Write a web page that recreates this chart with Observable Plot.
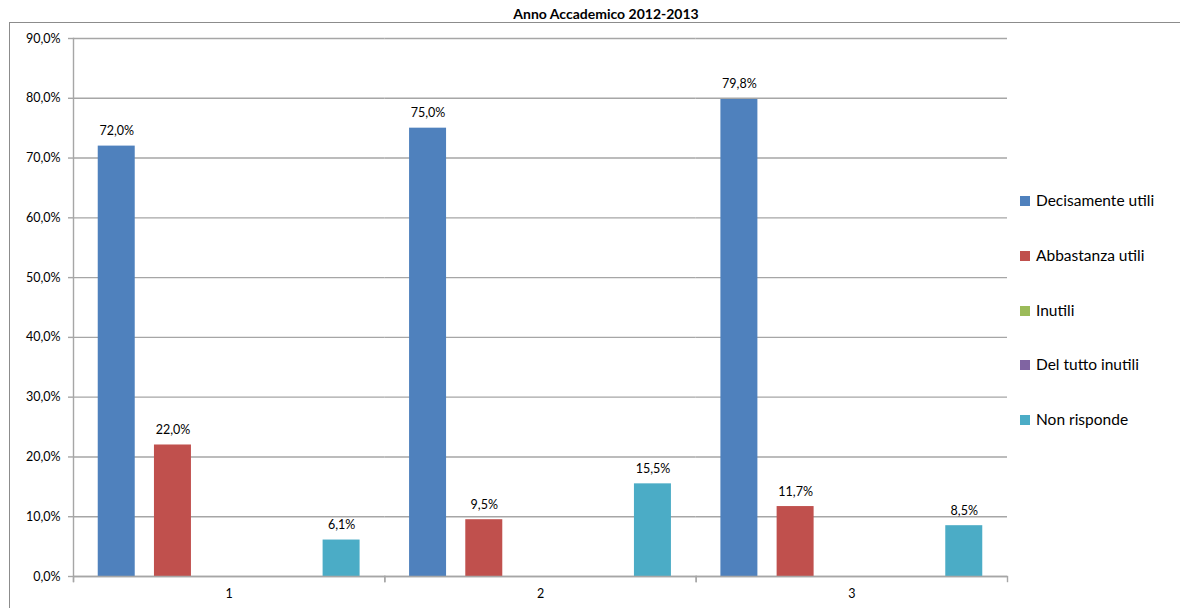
<!DOCTYPE html>
<html>
<head>
<meta charset="utf-8">
<script src="https://cdn.jsdelivr.net/npm/d3@7"></script>
<script src="https://cdn.jsdelivr.net/npm/@observablehq/plot@0.6"></script>
<style>
  html, body { margin: 0; padding: 0; background: #fff; }
  #wrap { position: relative; width: 1180px; height: 608px; overflow: hidden; font-family: Lato, "Open Sans", sans-serif; }
  #title { position: absolute; top: 5px; left: 0; width: 1212px; text-align: center; font-weight: bold; font-size: 14px; color: #000; }
  #legend { position: absolute; left: 1020px; top: 191px; font-size: 15.5px; color: #000; }
  .li { height: 54.8px; display: flex; align-items: flex-start; }
  .sw { width: 10px; height: 10px; margin-right: 6px; margin-top: 5px; }
  #border { position: absolute; left: 9px; top: 22px; width: 1200px; height: 700px; border-left: 1.5px solid #8c8c8c; border-top: 1.5px solid #8c8c8c; box-sizing: border-box; }
  #chart { position: absolute; left: 0; top: 0; }
</style>
</head>
<body>
<div id="wrap">
  <div id="border"></div>
  <div id="chart"></div>
  <div id="title">Anno Accademico 2012-2013</div>
  <div id="legend"></div>
</div>
<script>
const groups = ["1", "2", "3"];
const series = ["Decisamente utili", "Abbastanza utili", "Inutili", "Del tutto inutili", "Non risponde"];
const colors = ["#4f81bd", "#c0504d", "#9bbb59", "#8064a2", "#4bacc6"];
const decisamente = [72.0, 75.0, 79.8];
const abbastanza = [22.0, 9.5, 11.7];
const inutili = [0, 0, 0];
const delTutto = [0, 0, 0];
const nonRisponde = [6.1, 15.5, 8.5];
const yTicks = [0, 10, 20, 30, 40, 50, 60, 70, 80, 90];

const valuesBySeries = [decisamente, abbastanza, inutili, delTutto, nonRisponde];
const data = [];
groups.forEach((g, gi) => {
  series.forEach((s, si) => {
    data.push({group: g, series: s, value: valuesBySeries[si][gi]});
  });
});
const fmt = v => d3.format(".1f")(v).replace(".", ",") + "%";

const H = 608, mTop = 38, mBottom = 32;
const innerH = H - mTop - mBottom;
const gridColor = "#a6a6a6";

const chart = Plot.plot({
  width: 1180,
  height: H,
  marginLeft: 73,
  marginRight: 173,
  marginTop: mTop,
  marginBottom: mBottom,
  style: {fontFamily: "Lato, 'Open Sans', sans-serif", fontSize: "12.5px", color: "#000", background: "transparent"},
  fx: {domain: groups, padding: 0, round: false, label: null},
  x: {domain: series, paddingInner: 0.342, paddingOuter: 0.44, round: false, axis: null},
  y: {domain: [0, 90], label: null},
  color: {domain: series, range: colors},
  marks: [
    Plot.ruleY(yTicks, {stroke: gridColor, strokeWidth: 1.4, strokeOpacity: 1}),
    Plot.frame({anchor: "left", facet: "super", stroke: gridColor, strokeWidth: 1.4, strokeOpacity: 1, insetBottom: -5}),
    Plot.frame({anchor: "left", stroke: gridColor, strokeWidth: 1.4, strokeOpacity: 1, insetTop: innerH, insetBottom: -5}),
    Plot.frame({anchor: "right", stroke: gridColor, strokeWidth: 1.4, strokeOpacity: 1, insetTop: innerH, insetBottom: -5}),
    Plot.axisY(yTicks, {tickSize: 5, tickPadding: 8, tickFormat: fmt, stroke: gridColor, strokeWidth: 1.4, fill: "#000", fontSize: 12.5, label: null}),
    Plot.axisFx({anchor: "bottom", tickSize: 0, tickPadding: 13, fontSize: 12.5, fill: "#000", label: null}),
    Plot.barY(data, {fx: "group", x: "series", y: "value", fill: "series"}),
    Plot.ruleY([0], {stroke: gridColor, strokeWidth: 1.4, strokeOpacity: 1}),
    Plot.text(data.filter(d => d.value > 0), {fx: "group", x: "series", y: "value", text: d => fmt(d.value), dy: -15, fontSize: 12.5, fill: "#000"})
  ]
});
document.getElementById("chart").appendChild(chart);

const legend = document.getElementById("legend");
series.forEach((s, i) => {
  const row = document.createElement("div");
  row.className = "li";
  const sw = document.createElement("div");
  sw.className = "sw";
  sw.style.background = colors[i];
  const t = document.createElement("span");
  t.textContent = s;
  row.appendChild(sw);
  row.appendChild(t);
  legend.appendChild(row);
});
</script>
</body>
</html>
